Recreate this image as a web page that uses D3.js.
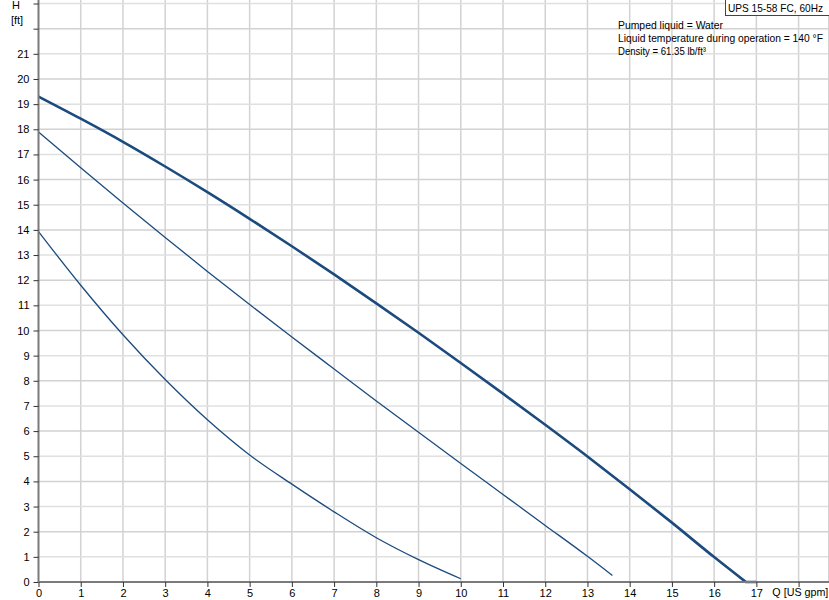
<!DOCTYPE html>
<html>
<head>
<meta charset="utf-8">
<script src="https://cdn.jsdelivr.net/npm/d3@7"></script>
<style>
  body { margin: 0; background: #fff; }
  svg { display: block; font-family: "Liberation Sans", Arial, sans-serif; }
</style>
</head>
<body>
<svg id="chart" width="829" height="600"></svg>
<script>
// flow rate [US gpm] and head [ft] for the three speed curves
var qTop = [0, 1, 2, 3, 4, 5, 6, 7, 8, 9, 10, 11, 12, 13, 14, 15, 16, 16.75, 17];
var hTop = [19.3, 18.42, 17.5, 16.52, 15.5, 14.44, 13.35, 12.23, 11.08, 9.91, 8.71, 7.49, 6.25, 4.99, 3.69, 2.36, 0.99, 0, 0];

var qMid = [0, 1, 2, 3, 4, 5, 6, 7, 8, 9, 10, 11, 12, 13, 13.59];
var hMid = [17.89, 16.47, 15.07, 13.7, 12.35, 11.03, 9.74, 8.47, 7.2, 5.95, 4.71, 3.48, 2.25, 1.02, 0.26];

var qLow = [0, 1, 2, 3, 4, 5, 6, 7, 8, 9, 10];
var hLow = [13.93, 11.8, 9.83, 8.05, 6.45, 5.05, 3.89, 2.79, 1.76, 0.89, 0.13];

var xTicks = d3.range(0, 19);
var yTicks = d3.range(0, 24);
var xLabels = d3.range(0, 18);
var yLabels = d3.range(0, 22);

var title = "UPS 15-58 FC, 60Hz";
var infoLines = ["Pumped liquid = Water", "Liquid temperature during operation = 140 \u00b0F", "Density = 61.35 lb/ft\u00b3"];
var infoWidths = [105, 205, 88];

var svg = d3.select("#chart");
var width = 829, height = 600;
var margin = {left: 38.5, bottom: 18};

var x = d3.scaleLinear()
    .domain([0, 18.72])
    .range([margin.left, width]);

var y = d3.scaleLinear()
    .domain([0, 23.14])
    .range([height - margin.bottom, 0]);

var curveColor = "#1b4b7e";

// grid
var grid = svg.append("g");
grid.selectAll(".vg")
    .data(xTicks.slice(1))
    .enter()
    .append("line")
    .attr("x1", function(d) { return x(d); })
    .attr("x2", function(d) { return x(d); })
    .attr("y1", 0)
    .attr("y2", y(0))
    .attr("stroke", "#d2d2d2")
    .attr("stroke-width", 1.5);

grid.selectAll(".hg")
    .data(yTicks.slice(1))
    .enter()
    .append("line")
    .attr("x1", x(0))
    .attr("x2", width)
    .attr("y1", function(d) { return y(d); })
    .attr("y2", function(d) { return y(d); })
    .attr("stroke", function(d) { return d % 2 ? "#e0e0e0" : "#d2d2d2"; })
    .attr("stroke-width", 1.5);

// right border
grid.append("line")
    .attr("x1", width - 0.5).attr("x2", width - 0.5)
    .attr("y1", 0).attr("y2", y(0))
    .attr("stroke", "#d2d2d2");

// curves
var line = d3.line()
    .x(function(d) { return x(d[0]); })
    .y(function(d) { return y(d[1]); })
    .curve(d3.curveMonotoneX);

var straight = d3.line()
    .x(function(d) { return x(d[0]); })
    .y(function(d) { return y(d[1]); });

function pairs(q, h) {
    return q.map(function(v, i) { return [v, h[i]]; });
}

svg.append("path")
    .datum(pairs(qLow, hLow))
    .attr("d", line)
    .attr("fill", "none")
    .attr("stroke", curveColor)
    .attr("stroke-width", 1.3);

svg.append("path")
    .datum(pairs(qMid, hMid))
    .attr("d", line)
    .attr("fill", "none")
    .attr("stroke", curveColor)
    .attr("stroke-width", 1.3);

// top curve: smooth part down to zero head, then flat run-out on the axis
var topPts = pairs(qTop, hTop);
svg.append("path")
    .attr("d", line(topPts.slice(0, -1)) + straight(topPts.slice(-2)).replace("M", "L"))
    .attr("fill", "none")
    .attr("stroke", curveColor)
    .attr("stroke-width", 2.6)
    .attr("stroke-linejoin", "round");

// axes
var yAxis = d3.axisLeft(y)
    .tickValues(yTicks)
    .tickSize(5)
    .tickPadding(4)
    .tickFormat(function(d) { return yLabels.indexOf(d) >= 0 ? d : ""; });

var xAxis = d3.axisBottom(x)
    .tickValues(xTicks)
    .tickSize(5)
    .tickPadding(2)
    .tickFormat(function(d) { return xLabels.indexOf(d) >= 0 ? d : ""; });

var gy = svg.append("g")
    .attr("transform", "translate(" + margin.left + ",0)")
    .call(yAxis);

var gx = svg.append("g")
    .attr("transform", "translate(0," + y(0) + ")")
    .call(xAxis);

[gx, gy].forEach(function(g) {
    g.select(".domain").attr("stroke", "#7a7a7a").attr("stroke-width", 2);
    g.selectAll(".tick line").attr("stroke", "#333");
    g.selectAll("text")
        .attr("fill", "#000")
        .style("font-size", "11px")
        .style("font-family", "'Liberation Sans', Arial, sans-serif");
});
gy.select(".domain").attr("d", "M0," + y(0) + "V0");
gx.select(".domain").attr("d", "M" + x(0) + ",0H" + width);

// axis titles
svg.append("text")
    .attr("x", 16).attr("y", 9)
    .attr("text-anchor", "middle")
    .style("font-size", "11px")
    .text("H");
svg.append("text")
    .attr("x", 17).attr("y", 24)
    .attr("text-anchor", "middle")
    .style("font-size", "11px")
    .text("[ft]");
svg.append("text")
    .attr("x", x(17) + 16).attr("y", y(0) + 14)
    .attr("textLength", 56)
    .attr("lengthAdjust", "spacingAndGlyphs")
    .style("font-size", "11px")
    .text("Q [US gpm]");

// title box
var tb = svg.append("g");
tb.append("rect")
    .attr("x", 725.5).attr("y", -1)
    .attr("width", 104).attr("height", 16.5)
    .attr("fill", "#fff")
    .attr("stroke", "#444");
tb.append("text")
    .attr("x", 728).attr("y", 11.5)
    .attr("textLength", 95)
    .attr("lengthAdjust", "spacingAndGlyphs")
    .style("font-size", "11px")
    .text(title);

// info text
svg.selectAll(".info")
    .data(infoLines)
    .enter()
    .append("text")
    .attr("x", 618)
    .attr("y", function(d, i) { return 28.5 + i * 13; })
    .attr("textLength", function(d, i) { return infoWidths[i]; })
    .attr("lengthAdjust", "spacingAndGlyphs")
    .style("font-size", "11px")
    .text(function(d) { return d; });
</script>
</body>
</html>
